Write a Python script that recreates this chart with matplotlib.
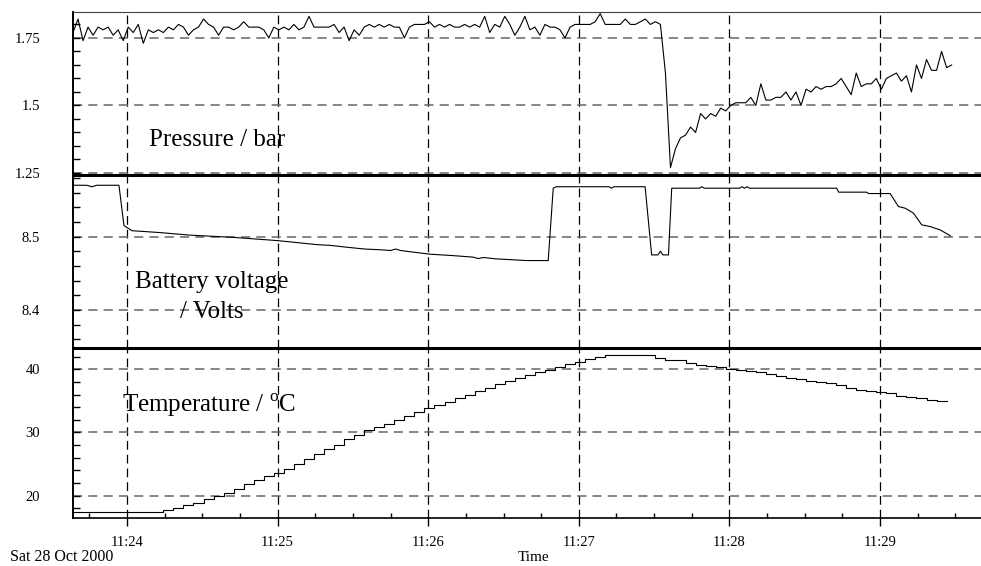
import numpy as np
import pandas as pd
import matplotlib
matplotlib.use("Agg")
import matplotlib.pyplot as plt
import matplotlib.dates as mdates
from matplotlib.ticker import MultipleLocator, FormatStrFormatter

plt.rcParams["font.family"] = ["Liberation Serif", "DejaVu Serif"]
plt.rcParams["mathtext.fontset"] = "custom"
plt.rcParams["mathtext.rm"] = "Liberation Serif"

start = pd.Timestamp("2000-10-28 11:23:00")

# pressure / bar, one reading every 2 s from 11:23:38.5
pres_t0, pres_dt = 38.5, 2
pressure = [
    1.77, 1.82, 1.74, 1.79, 1.76, 1.79, 1.78, 1.79, 1.76, 1.78,
    1.74, 1.79, 1.77, 1.80, 1.73, 1.78, 1.77, 1.78, 1.77, 1.79,
    1.78, 1.80, 1.79, 1.76, 1.78, 1.79, 1.82, 1.80, 1.79, 1.76,
    1.79, 1.79, 1.78, 1.79, 1.81, 1.79, 1.79, 1.79, 1.78, 1.75,
    1.79, 1.78, 1.79, 1.78, 1.80, 1.78, 1.79, 1.83, 1.79, 1.79,
    1.79, 1.79, 1.80, 1.77, 1.79, 1.74, 1.78, 1.76, 1.79, 1.80,
    1.79, 1.80, 1.79, 1.80, 1.79, 1.79, 1.75, 1.79, 1.80, 1.80,
    1.80, 1.81, 1.79, 1.80, 1.79, 1.80, 1.79, 1.79, 1.80, 1.79,
    1.80, 1.79, 1.83, 1.77, 1.80, 1.79, 1.83, 1.80, 1.76, 1.79,
    1.83, 1.78, 1.79, 1.76, 1.80, 1.79, 1.79, 1.78, 1.75, 1.79,
    1.80, 1.80, 1.80, 1.80, 1.81, 1.84, 1.80, 1.80, 1.80, 1.80,
    1.82, 1.80, 1.80, 1.81, 1.82, 1.80, 1.81, 1.80, 1.62, 1.27,
    1.34, 1.38, 1.39, 1.42, 1.40, 1.47, 1.45, 1.47, 1.46, 1.49,
    1.48, 1.50, 1.51, 1.51, 1.51, 1.53, 1.50, 1.58, 1.52, 1.52,
    1.53, 1.53, 1.55, 1.52, 1.55, 1.50, 1.56, 1.55, 1.57, 1.56,
    1.57, 1.57, 1.58, 1.60, 1.57, 1.54, 1.62, 1.57, 1.58, 1.58,
    1.60, 1.56, 1.60, 1.61, 1.62, 1.59, 1.61, 1.55, 1.65, 1.60,
    1.67, 1.63, 1.63, 1.70, 1.64, 1.65,
]

# battery voltage / V, seconds after 11:23:00
bat_t = [38.5, 44, 46, 48, 56.8, 58.8, 62, 73, 85, 102,
         120, 135.7, 141, 147.5, 154.7, 161, 165, 167, 169, 173.5,
         180.7, 190, 197.8, 200, 202, 207, 219, 227.8, 229.8, 231,
         252, 253, 254, 266.4, 269, 271.5, 272.5, 273.5, 275.7, 277,
         288, 289, 290, 304, 305, 306, 307, 308, 342.7, 343.5,
         354.6, 355.4, 364, 367.3, 370, 373.3, 376.6, 380, 384, 388]
bat_v = [8.570, 8.570, 8.568, 8.570, 8.570, 8.515, 8.508, 8.5055, 8.502, 8.499,
         8.4945, 8.489, 8.488, 8.4855, 8.483, 8.482, 8.481, 8.483, 8.481, 8.479,
         8.476, 8.474, 8.472, 8.470, 8.4715, 8.4696, 8.4673, 8.4673, 8.566, 8.568,
         8.568, 8.566, 8.568, 8.568, 8.475, 8.475, 8.480, 8.475, 8.475, 8.566,
         8.566, 8.568, 8.566, 8.566, 8.568, 8.566, 8.568, 8.566, 8.566, 8.5606,
         8.5606, 8.5587, 8.5587, 8.541, 8.5387, 8.532, 8.516, 8.5136, 8.509, 8.501]

# temperature / oC, one reading every 4 s from 11:23:38.5
temp_t0, temp_dt = 38.5, 4
temperature = [
    17.4, 17.4, 17.4, 17.4, 17.4, 17.4, 17.4, 17.4,
    17.4, 17.8, 18.1, 18.5, 18.9, 19.4, 19.9, 20.4,
    21.1, 21.8, 22.5, 23.1, 23.6, 24.3, 25.0, 25.8,
    26.6, 27.4, 28.1, 28.9, 29.6, 30.4, 30.9, 31.4,
    31.9, 32.6, 33.2, 33.9, 34.4, 34.9, 35.4, 35.9,
    36.5, 37.1, 37.6, 38.1, 38.6, 39.1, 39.5, 39.9,
    40.4, 40.8, 41.2, 41.6, 42.0, 42.3, 42.3, 42.3,
    42.3, 42.3, 41.8, 41.5, 41.4, 41.0, 40.7, 40.6,
    40.4, 40.1, 39.9, 39.7, 39.5, 39.2, 38.9, 38.7,
    38.5, 38.2, 38.0, 37.8, 37.5, 37.1, 36.8, 36.6,
    36.4, 36.2, 35.8, 35.6, 35.4, 35.2, 35.0, 35.0,
]


def to_time(sec):
    return start + pd.to_timedelta(np.atleast_1d(np.asarray(sec, dtype=float)), unit="s")


pres_time = to_time(pres_t0 + pres_dt * np.arange(len(pressure)))
bat_time = to_time(bat_t)
temp_time = to_time(temp_t0 + temp_dt * np.arange(len(temperature)))

W, H = 981, 566
fig = plt.figure(figsize=(W / 100, H / 100), dpi=100)


def box(top, bottom):
    return [73 / W, 1 - bottom / H, 1 - 73 / W, (bottom - top) / H]


ax_p = fig.add_axes(box(12, 175))
ax_b = fig.add_axes(box(175, 348), sharex=ax_p)
ax_t = fig.add_axes(box(348, 518), sharex=ax_p)

ax_p.plot(pres_time, pressure, color="black", lw=0.8)
ax_b.plot(bat_time, bat_v, color="black", lw=0.8)
ax_t.plot(temp_time, temperature, color="black", lw=0.8, drawstyle="steps-post")

ax_p.set_ylim(1.2425, 1.846)
ax_b.set_ylim(8.348, 8.584)
ax_t.set_ylim(16.47, 43.37)
x_lo, x_hi = to_time([38.5, 400.2])
ax_t.set_xlim(x_lo, x_hi)

ax_p.yaxis.set_major_locator(MultipleLocator(0.25))
ax_p.yaxis.set_minor_locator(MultipleLocator(0.05))
ax_b.yaxis.set_major_locator(MultipleLocator(0.1))
ax_b.yaxis.set_minor_locator(MultipleLocator(0.02))
ax_t.yaxis.set_major_locator(MultipleLocator(10))
ax_t.yaxis.set_minor_locator(MultipleLocator(2))
for ax in (ax_p, ax_b, ax_t):
    ax.yaxis.set_major_formatter(FormatStrFormatter("%g"))

ax_t.xaxis.set_major_locator(mdates.MinuteLocator())
ax_t.xaxis.set_minor_locator(mdates.SecondLocator(bysecond=[15, 30, 45]))
ax_t.xaxis.set_major_formatter(mdates.DateFormatter("%H:%M"))

for ax in (ax_p, ax_b, ax_t):
    ax.set_facecolor("none")
    ax.grid(axis="y", which="major", color="#666666", lw=1.1, ls=(0, (6, 4)))
    ax.grid(axis="x", which="major", color="black", lw=0.9, ls=(0, (7, 4)))
    ax.tick_params(axis="y", which="both", direction="in", length=5, width=1,
                   pad=23.7, labelsize=10.5)
    ax.spines["right"].set_visible(False)
    ax.spines["left"].set_linewidth(1.4)

for ax in (ax_p, ax_b):
    ax.tick_params(axis="x", which="both", bottom=False, labelbottom=False)
    ax.spines["bottom"].set_linewidth(2.2)

ax_p.spines["top"].set_linewidth(0.8)
ax_p.spines["top"].set_color("#444444")
ax_b.spines["top"].set_visible(False)
ax_t.spines["top"].set_visible(False)
ax_t.spines["bottom"].set_linewidth(1.2)
ax_t.tick_params(axis="x", which="major", direction="out", length=6, width=1,
                 pad=7, labelsize=10.5)
ax_t.tick_params(axis="x", which="minor", direction="in", length=3.6, width=1)


def fig_text(x, y, s, **kw):
    fig.text(x / W, 1 - y / H, s, **kw)


fig_text(149, 146, "Pressure / bar", fontsize=18, va="baseline")
fig_text(211.5, 288.3, "Battery voltage", fontsize=18, ha="center", va="baseline")
fig_text(211.5, 318, "/ Volts", fontsize=18, ha="center", va="baseline")
fig_text(122, 411.7, r"Temperature / $^{\mathrm{o}}$C", fontsize=18, va="baseline")
fig_text(534, 561, "Time", fontsize=11, ha="center", va="baseline")
fig_text(10, 561, "Sat 28 Oct 2000", fontsize=11.5, va="baseline")

fig.savefig("out.png", dpi=100)
